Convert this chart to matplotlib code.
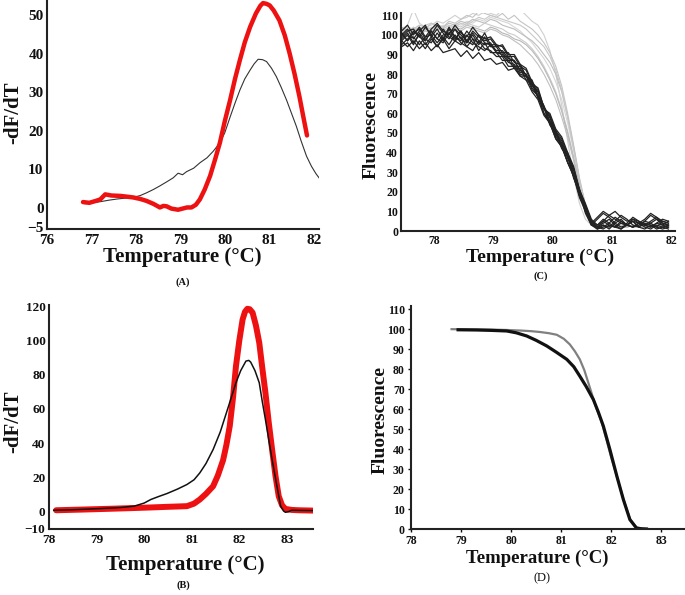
import numpy as np
import matplotlib
matplotlib.use("Agg")
import matplotlib.pyplot as plt

plt.rcParams['font.family'] = ['Liberation Serif', 'DejaVu Serif']

W, H = 685, 595

# ---------------- Panel A data ----------------
A_red_T = [76.81, 76.95, 77.1, 77.2, 77.31, 77.45, 77.65, 77.8, 77.94, 78.1, 78.24, 78.4, 78.54, 78.62, 78.69,
           78.8, 78.95, 79.05, 79.15, 79.25, 79.35, 79.44, 79.55, 79.67, 79.78, 79.89, 80.0, 80.12, 80.23, 80.34,
           80.45, 80.57, 80.7, 80.8, 80.86, 80.94, 81.01, 81.1, 81.23, 81.35, 81.46, 81.57, 81.68, 81.77, 81.85]
A_red_v = [1.5, 1.3, 1.8, 2.2, 3.5, 3.2, 3.1, 2.9, 2.7, 2.3, 1.8, 1.0, 0.1, 0.5, 0.4,
           -0.2, -0.5, -0.2, 0.1, 0.1, 0.8, 2.2, 4.8, 8.3, 12.5, 16.9, 22.5, 28, 33.5, 38.4,
           43, 47, 50.5, 52.5, 53.2, 53.0, 52.6, 51.3, 48.7, 44.8, 40.1, 34.8, 28.9, 23.5, 18.8]
A_black_T = [76.86, 77.0, 77.2, 77.4, 77.58, 77.75, 77.94, 78.1, 78.24, 78.4, 78.54, 78.7, 78.84, 78.95, 79.05,
             79.14, 79.3, 79.44, 79.6, 79.74, 79.89, 80.0, 80.12, 80.23, 80.34, 80.45, 80.57, 80.66, 80.75, 80.85,
             80.94, 81.05, 81.16, 81.27, 81.39, 81.5, 81.61, 81.72, 81.84, 81.95, 82.05, 82.12]
A_black_v = [1.1, 1.3, 1.6, 2.0, 2.3, 2.5, 2.7, 3.2, 3.9, 4.8, 5.7, 6.8, 7.8, 9.0, 8.6,
             9.4, 10.3, 11.7, 13.0, 14.7, 16.9, 19.5, 23.6, 27.2, 30.6, 33.5, 35.8, 37.4, 38.6, 38.5,
             38.0, 36.3, 34.1, 31.3, 28.0, 24.6, 21.2, 17.3, 13.4, 10.8, 8.9, 7.8]
A_xticks = [76, 77, 78, 79, 80, 81, 82]
A_yticks = [-5, 0, 10, 20, 30, 40, 50]

# ---------------- Panel B data ----------------
B_red_T = [78.15, 78.7, 79.2, 79.79, 80.2, 80.48, 80.7, 80.9, 81.05, 81.17, 81.3, 81.45, 81.55, 81.66, 81.73, 81.8,
           81.87, 81.93, 82.0, 82.07, 82.12, 82.17, 82.22, 82.28, 82.35, 82.42, 82.48, 82.55, 82.62, 82.69,
           82.76, 82.83, 82.9, 82.97, 83.1, 83.24, 83.4, 83.55]
B_red_v = [0.6, 1.0, 1.4, 1.9, 2.3, 2.6, 2.8, 3.0, 4.5, 6.9, 10.2, 14.7, 21, 30, 39, 50,
           67, 85, 100, 112.5, 117, 118.8, 118.5, 116.5, 109, 98.9, 85, 69.5, 52, 36.2,
           21, 8.8, 3.5, 1.4, 0.8, 0.6, 0.5, 0.4]
B_black_T = [78.1, 78.5, 79.1, 79.5, 79.79, 80.0, 80.14, 80.3, 80.48, 80.7, 80.9, 81.05, 81.17, 81.3, 81.45,
             81.6, 81.73, 81.83, 81.93, 82.03, 82.14, 82.2, 82.24, 82.33, 82.42, 82.48, 82.55, 82.62, 82.69,
             82.78, 82.87, 82.93, 82.97, 83.03, 83.1, 83.3, 83.55]
B_black_v = [0.6, 0.9, 1.6, 2.2, 3.0, 4.8, 6.9, 8.6, 10.4, 13.0, 15.7, 18.5, 22.5, 28.0, 36.2,
             46.5, 57.8, 66.5, 75.4, 82.5, 88.1, 88.5, 87.5, 82.5, 75.4, 65, 53.8, 42, 30.4,
             16.5, 3.0, 0.2, -0.6, -0.3, 0.6, 0.5, 0.4]
B_xticks = [78, 79, 80, 81, 82, 83]
B_yticks = [-10, 0, 20, 40, 60, 80, 100, 120]

# ---------------- Panel C data ----------------
C_T = [77.45, 77.55, 77.65, 77.75, 77.85, 77.95, 78.05, 78.15, 78.25, 78.35, 78.45, 78.55, 78.65, 78.75, 78.85,
       78.95, 79.05, 79.15, 79.25, 79.35, 79.45, 79.55, 79.65, 79.75, 79.85, 79.95, 80.05, 80.15, 80.25, 80.35,
       80.45, 80.55, 80.65, 80.75, 80.85, 80.95, 81.05, 81.15, 81.25, 81.35, 81.45, 81.55, 81.65, 81.75, 81.85, 81.95]
C_black = [
    [101, 97, 102, 99, 104, 100, 105, 101, 98, 103, 100, 97, 102, 99, 97, 98, 94, 95, 90, 90, 85, 83, 76, 72, 63, 59, 51, 47, 39, 32, 20, 12, 5, 2, 4, 6, 3, 1, 4, 7, 5, 3, 2, 4, 3, 2],
    [97, 100, 95, 101, 97, 102, 98, 103, 99, 97, 102, 96, 100, 95, 99, 94, 94, 89, 89, 84, 84, 79, 77, 69, 64, 56, 51, 43, 39, 28, 21, 10, 4, 1, 3, 2, 5, 8, 6, 3, 2, 5, 4, 6, 3, 5],
    [94, 96, 92, 97, 93, 98, 94, 99, 95, 100, 96, 94, 98, 92, 96, 91, 91, 87, 87, 83, 83, 77, 75, 68, 63, 54, 50, 42, 38, 27, 20, 9, 3, 6, 9, 7, 4, 2, 3, 5, 2, 1, 3, 2, 1, 2],
    [97, 94, 97, 93, 96, 92, 95, 91, 92, 93, 89, 92, 88, 91, 87, 88, 85, 86, 82, 83, 79, 79, 75, 73, 63, 58, 49, 45, 37, 31, 20, 13, 5, 2, 3, 1, 4, 6, 3, 5, 2, 4, 3, 1, 2, 3],
    [100, 103, 98, 102, 105, 99, 103, 98, 104, 99, 97, 102, 98, 96, 101, 95, 95, 91, 91, 86, 85, 79, 76, 68, 63, 55, 51, 44, 40, 29, 21, 10, 4, 7, 10, 8, 6, 4, 3, 5, 4, 6, 9, 7, 5, 4],
    [98, 101, 96, 100, 95, 99, 94, 98, 93, 97, 99, 94, 92, 97, 93, 92, 89, 89, 84, 84, 79, 77, 71, 67, 59, 55, 47, 43, 35, 28, 17, 10, 3, 1, 2, 4, 2, 1, 3, 2, 4, 2, 1, 3, 2, 1],
    [102, 105, 100, 104, 99, 103, 106, 102, 100, 105, 101, 99, 104, 100, 98, 99, 95, 94, 89, 89, 84, 82, 75, 71, 62, 60, 52, 48, 40, 33, 21, 14, 6, 3, 5, 8, 10, 7, 5, 6, 4, 3, 5, 7, 4, 3],
    [95, 98, 99, 95, 99, 100, 96, 100, 101, 97, 95, 100, 96, 94, 92, 95, 91, 90, 86, 85, 80, 79, 72, 69, 60, 56, 48, 44, 35, 28, 18, 11, 4, 2, 5, 3, 2, 4, 3, 6, 5, 3, 4, 2, 5, 4],
    [99, 102, 103, 99, 97, 102, 98, 96, 101, 103, 98, 96, 101, 97, 95, 96, 91, 91, 87, 87, 82, 80, 73, 69, 60, 55, 47, 43, 35, 29, 18, 11, 3, 2, 1, 3, 2, 5, 3, 2, 3, 5, 8, 6, 4, 3],
    [101, 97, 101, 103, 98, 96, 101, 97, 103, 98, 102, 97, 95, 100, 96, 95, 92, 92, 88, 87, 81, 80, 74, 71, 63, 58, 50, 46, 38, 32, 21, 13, 5, 3, 6, 4, 7, 5, 3, 2, 4, 3, 2, 4, 6, 5],
]
C_gray = [
    [103, 105, 113, 106, 104, 105, 107, 106, 108, 110, 108, 109, 111, 110, 112, 111, 110, 113, 114, 112, 113, 110, 107, 105, 100, 92, 80, 64, 46, 28, 14, 6, 3, 2, 4, 3, 2, 3, 2, 3, 4, 2, 3, 2, 3, 2],
    [101, 103, 102, 104, 103, 106, 105, 104, 107, 106, 108, 110, 109, 112, 111, 110, 109, 111, 108, 110, 107, 105, 103, 100, 96, 91, 84, 74, 60, 44, 27, 13, 5, 3, 2, 3, 2, 3, 4, 2, 3, 2, 3, 2, 2, 3],
    [100, 102, 101, 103, 102, 104, 103, 105, 104, 106, 105, 107, 106, 108, 107, 109, 108, 107, 106, 104, 102, 99, 96, 92, 88, 83, 76, 67, 55, 41, 25, 12, 5, 2, 3, 2, 3, 2, 2, 3, 2, 3, 2, 2, 3, 2],
    [104, 102, 103, 105, 104, 103, 105, 104, 106, 105, 107, 106, 108, 107, 106, 108, 107, 105, 104, 103, 101, 99, 97, 94, 90, 86, 80, 71, 58, 43, 26, 13, 5, 3, 2, 3, 2, 2, 3, 2, 2, 3, 2, 2, 2, 3],
    [102, 104, 103, 102, 104, 103, 105, 104, 103, 105, 104, 106, 105, 104, 106, 105, 104, 103, 101, 100, 98, 96, 93, 89, 84, 78, 71, 62, 51, 38, 24, 12, 5, 2, 3, 2, 2, 3, 2, 3, 2, 2, 3, 2, 2, 2],
    [101, 100, 102, 101, 103, 102, 104, 103, 102, 104, 103, 105, 104, 103, 102, 104, 103, 101, 100, 98, 97, 95, 92, 88, 83, 77, 70, 61, 50, 37, 23, 11, 4, 2, 2, 3, 2, 2, 2, 3, 2, 2, 2, 3, 2, 2],
    [103, 101, 104, 102, 105, 106, 104, 103, 105, 104, 106, 105, 107, 109, 108, 110, 109, 108, 107, 106, 105, 103, 100, 97, 94, 89, 82, 72, 58, 42, 26, 13, 5, 3, 2, 2, 3, 2, 3, 2, 2, 3, 2, 2, 3, 2],
    [100, 99, 101, 100, 102, 101, 103, 102, 101, 103, 102, 104, 103, 102, 101, 103, 102, 100, 99, 97, 95, 92, 89, 85, 80, 74, 67, 58, 48, 36, 22, 10, 4, 2, 2, 2, 3, 2, 2, 3, 2, 2, 3, 2, 2, 2],
]
C_gray_colors = ['#cfcfcf', '#c4c4c4', '#d6d6d6', '#bdbdbd', '#cbcbcb', '#b8b8b8', '#c8c8c8', '#c0c0c0']
C_xticks = [78, 79, 80, 81, 82]
C_yticks = [0, 10, 20, 30, 40, 50, 60, 70, 80, 90, 100, 110]

# ---------------- Panel D data ----------------
D_gray_T = [78.81, 79.2, 79.6, 79.91, 80.2, 80.4, 80.57, 80.75, 80.91, 81.05, 81.17, 81.27, 81.37, 81.46, 81.54,
            81.62, 81.71, 81.8, 81.9, 82.0, 82.11, 82.24, 82.37, 82.5, 82.6, 82.72]
D_gray_v = [100, 99.9, 99.8, 99.6, 99.3, 99.0, 98.6, 98.0, 97.2, 95.2, 92.4, 89, 84.9, 79.5, 73.2,
            66.8, 59.8, 54.0, 45.0, 35.5, 26.4, 14.9, 5.0, 0.8, 0.2, 0]
D_black_T = [78.94, 79.3, 79.6, 79.91, 80.1, 80.31, 80.5, 80.71, 80.9, 81.11, 81.25, 81.37, 81.5, 81.64, 81.74,
             81.84, 81.97, 82.11, 82.24, 82.37, 82.5, 82.6, 82.7]
D_black_v = [99.7, 99.6, 99.4, 99.1, 98.2, 96.6, 94.4, 91.6, 88.5, 84.9, 81.2, 76.5, 71.2, 64.8, 58.5,
             51.5, 39.8, 26.4, 14.7, 4.7, 0.5, 0.1, 0]
D_xticks = [78, 79, 80, 81, 82, 83]
D_yticks = [0, 10, 20, 30, 40, 50, 60, 70, 80, 90, 100, 110]

fig = plt.figure(figsize=(W / 100, H / 100), dpi=100)


def add_ax(l, r, b, t):
    return fig.add_axes([l / W, 1 - b / H, (r - l) / W, (b - t) / H])


def style(ax, xticks, yticks, fs, ticklen=0, lw=1.5, xpad=3, ypad=2):
    for s in ['top', 'right']:
        ax.spines[s].set_visible(False)
    for s in ['left', 'bottom']:
        ax.spines[s].set_linewidth(lw)
        ax.spines[s].set_color('#222222')
    ax.set_xticks(xticks)
    ax.set_yticks(yticks)
    ax.tick_params(length=ticklen, width=1, labelsize=fs, colors='#111111')
    ax.tick_params(axis='x', pad=xpad)
    ax.tick_params(axis='y', pad=ypad)
    for lab in ax.get_xticklabels() + ax.get_yticklabels():
        lab.set_fontweight('bold')


def ftext(x, y, s, size, rot=0, weight='bold'):
    fig.text(x / W, 1 - y / H, s, ha='center', va='center', fontsize=size,
             rotation=rot, fontweight=weight, color='#111111')


# ---- A ----
axA = add_ax(47, 319, 229, 0)
axA.plot(A_black_T, A_black_v, color='#333333', lw=0.8)
axA.plot(A_red_T, A_red_v, color='#ee1111', lw=3.2, solid_capstyle='round')
axA.set_xlim(76, 82.12)
axA.set_ylim(-5.5, 54)
style(axA, A_xticks, A_yticks, 11, xpad=3.5, ypad=2.5)
ftext(182, 257, 'Temperature (°C)', 15)
ftext(13, 113, '-dF/dT', 15, rot=90)
ftext(183, 282, '(A)', 7.5)

# ---- C ----
axC = add_ax(401, 675, 231, 13)
for vals, c in zip(C_gray, C_gray_colors):
    axC.plot(C_T, vals, color=c, lw=0.8)
for vals in C_black:
    axC.plot(C_T, vals, color='#222222', lw=0.9)
axC.set_xlim(77.44, 82.06)
axC.set_ylim(0, 111.2)
style(axC, C_xticks, C_yticks, 8.5)
ftext(540, 257, 'Temperature (°C)', 14)
ftext(371, 125, 'Fluorescence', 14, rot=90)
ftext(541, 276, '(C)', 7.5)

# ---- B ----
axB = add_ax(49, 313, 529, 305)
axB.plot(B_red_T, B_red_v, color='#ee1111', lw=4.3, solid_capstyle='round')
axB.plot(B_black_T, B_black_v, color='#111111', lw=1.1)
axB.set_xlim(78.05, 83.55)
axB.set_ylim(-10.4, 121)
style(axB, B_xticks, B_yticks, 9.5, xpad=3.5, ypad=2.5)
ftext(185, 565, 'Temperature (°C)', 15)
ftext(13, 422, '-dF/dT', 15, rot=90)
ftext(183, 585, '(B)', 7.5)

# ---- D ----
axD = add_ax(411, 685, 529, 306)
axD.plot(D_gray_T, D_gray_v, color='#808080', lw=1.6)
axD.plot(D_black_T, D_black_v, color='#111111', lw=2.3)
axD.set_xlim(78, 83.47)
axD.set_ylim(0, 111.6)
style(axD, D_xticks, D_yticks, 8.5, ticklen=2.5, xpad=1.5)
ftext(537, 558, 'Temperature (°C)', 13.5)
ftext(380, 420, 'Fluorescence', 14, rot=90)
ftext(542, 578, '(D)', 9, weight='normal')

fig.savefig('out.png', dpi=100)
